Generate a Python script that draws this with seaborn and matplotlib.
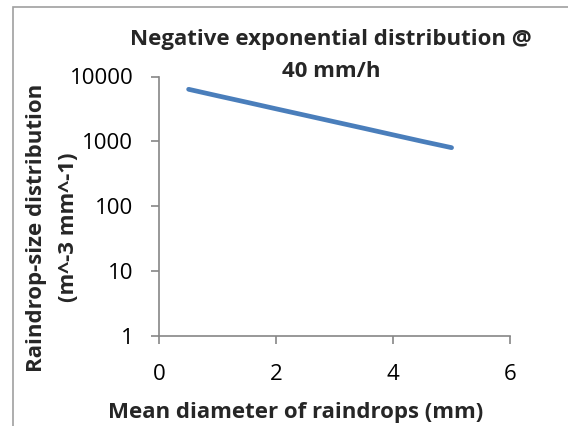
import matplotlib
matplotlib.use("Agg")
import matplotlib.pyplot as plt
import seaborn as sns
from matplotlib.patches import Rectangle
from matplotlib.ticker import FixedLocator, NullLocator

# mean drop diameter (mm) and drop-size distribution (m^-3 mm^-1)
diam = [0.5, 1.0, 1.5, 2.0, 2.5, 3.0, 3.5, 4.0, 4.5, 5.0]
nsd = [6350, 5030, 4000, 3170, 2520, 2000, 1590, 1260, 1000, 800]

yticks = [1, 10, 100, 1000, 10000]
xticks = [0, 2, 4, 6]

sns.set_style("white")
plt.rcParams["font.family"] = ["Open Sans", "DejaVu Sans"]

W, H = 568, 426
fig = plt.figure(figsize=(W / 100, H / 100), dpi=100)
ax = fig.add_axes([159.4 / W, 1 - 336 / H, (510 - 159.4) / W, (336 - 76.5) / H])

sns.lineplot(x=diam, y=nsd, ax=ax, color="#4A7EBB", linewidth=3.4,
             solid_capstyle="round")

ax.set_yscale("log")
ax.set_ylim(1, 10000)
ax.set_xlim(0, 6)
ax.yaxis.set_major_locator(FixedLocator(yticks))
ax.yaxis.set_minor_locator(NullLocator())
ax.set_yticklabels([str(t) for t in yticks])
ax.set_xticks(xticks)
ax.set_xticklabels([str(t) for t in xticks])

gray = "#868686"
for s in ["top", "right"]:
    ax.spines[s].set_visible(False)
for s in ["left", "bottom"]:
    ax.spines[s].set_color(gray)
    ax.spines[s].set_linewidth(1.2)
ax.tick_params(axis="both", length=5.8, width=1.2, color=gray, direction="out",
               labelsize=16, labelcolor="black")
ax.tick_params(axis="y", pad=13, left=True)
ax.tick_params(axis="x", pad=14, bottom=True)

# titles placed like the Excel chart
fs = 16
fig.text(331 / W, 1 - 45 / H, "Negative exponential distribution @", ha="center",
         va="baseline", fontsize=fs, fontweight="bold")
fig.text(331 / W, 1 - 77 / H, "40 mm/h", ha="center", va="baseline",
         fontsize=fs, fontweight="bold")
fig.text(296 / W, 1 - 418 / H, "Mean diameter of raindrops (mm)", ha="center",
         va="baseline", fontsize=fs, fontweight="bold")
fig.text(42 / W, 1 - 227.5 / H, "Raindrop-size distribution", rotation=90,
         rotation_mode="anchor", ha="center", va="baseline", fontsize=fs,
         fontweight="bold")
fig.text(74 / W, 1 - 227.5 / H, "(m^-3 mm^-1)", rotation=90,
         rotation_mode="anchor", ha="center", va="baseline", fontsize=fs,
         fontweight="bold")

# chart area border
fig.patches.append(Rectangle((13 / W, -0.1), 1.0, 1.1 - 7 / H, fill=False,
                             edgecolor="#A0A0A0", linewidth=1.2,
                             transform=fig.transFigure, figure=fig))

fig.savefig("out.png", dpi=100)
